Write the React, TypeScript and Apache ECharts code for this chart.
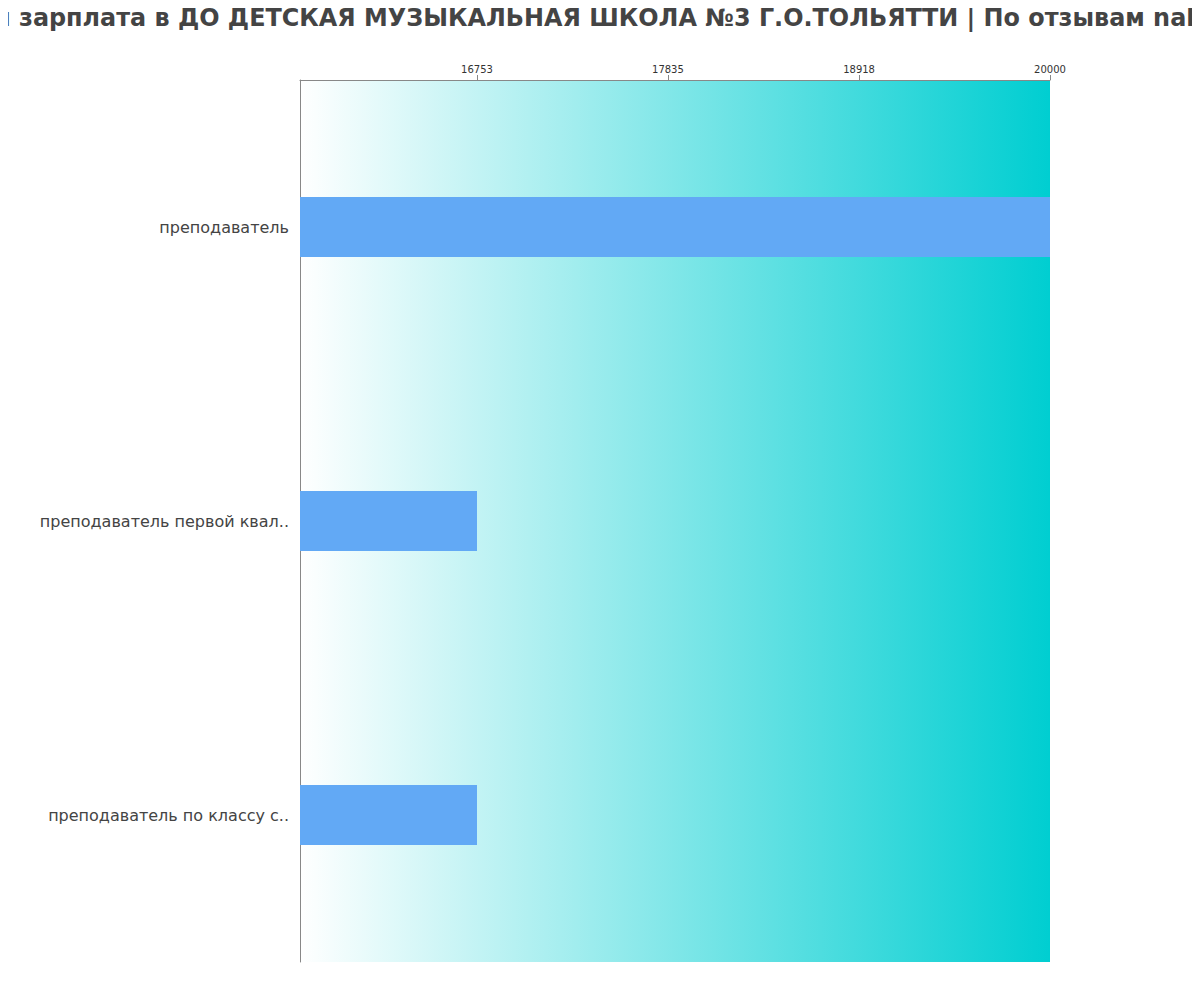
import React, { useEffect, useRef } from 'react';
import * as echarts from 'echarts';

const titleText =
  'Средняя зарплата в ДО ДЕТСКАЯ МУЗЫКАЛЬНАЯ ШКОЛА №3 Г.О.ТОЛЬЯТТИ | По отзывам nahodka.ru';

const categories = [
  'преподаватель',
  'преподаватель первой квал..',
  'преподаватель по классу с..',
];
const salaries = [20000, 16753, 16753];
const tickValues = [16753, 17835, 18918, 20000];
const axisMin = 15750;
const axisMax = 20000;

const App: React.FC = () => {
  const chartRef = useRef<HTMLDivElement>(null);

  useEffect(() => {
    const myChart = echarts.init(chartRef.current, null, { renderer: 'svg' });

    const option = {
      animation: false,
      textStyle: { fontFamily: 'DejaVu Sans' },
      title: {
        text: titleText,
        left: 'center',
        top: 1,
        padding: [5, 0, 5, 9],
        textStyle: {
          fontSize: 23.9,
          fontWeight: 'bold',
          color: '#444',
          fontFamily: 'DejaVu Sans',
        },
      },
      grid: {
        left: 300,
        right: 150,
        top: 80,
        bottom: 38,
        show: true,
        borderWidth: 0,
        backgroundColor: new echarts.graphic.LinearGradient(0, 0, 1, 0, [
          { offset: 0, color: '#ffffff' },
          { offset: 1, color: '#00ced1' },
        ]),
      },
      xAxis: {
        type: 'value',
        position: 'top',
        min: axisMin,
        max: axisMax,
        axisLine: { show: true, lineStyle: { color: '#888' } },
        axisTick: { show: true, length: 5, customValues: tickValues, lineStyle: { color: '#888' } },
        axisLabel: {
          customValues: tickValues,
          fontSize: 10,
          color: '#333',
          margin: 6,
          formatter: (v: number) => String(v),
        },
        splitLine: { show: false },
      },
      yAxis: {
        type: 'category',
        inverse: true,
        data: categories,
        axisLine: { show: true, lineStyle: { color: '#888' } },
        axisTick: { show: false },
        axisLabel: { fontSize: 16, color: '#444', margin: 11 },
        splitLine: { show: false },
      },
      series: [
        {
          type: 'bar',
          data: salaries,
          barWidth: 60,
          itemStyle: { color: '#62a9f5' },
        },
      ],
    };

    myChart.setOption(option);

    return () => {
      myChart.dispose();
    };
  }, []);

  return <div ref={chartRef} style={{ width: '1200px', height: '1000px', margin: '-8px' }}></div>;
};

export default App;
